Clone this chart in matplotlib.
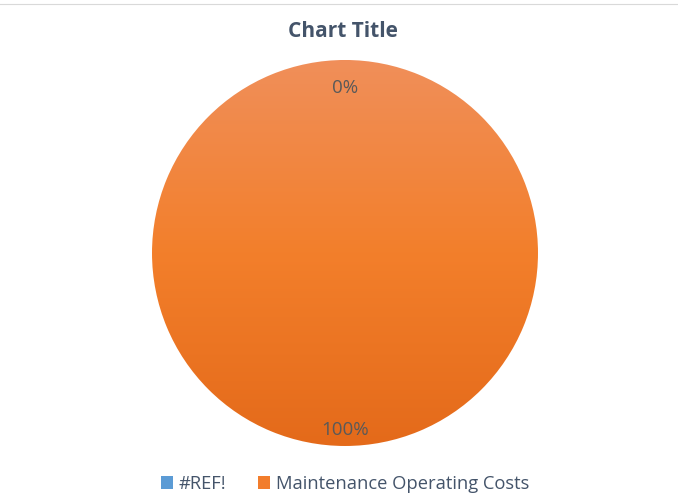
import numpy as np
import matplotlib.pyplot as plt
import matplotlib.transforms as mtransforms
from matplotlib.colors import LinearSegmentedColormap
from matplotlib.patches import Patch

# Dados do gráfico
categories = ["#REF!", "Maintenance Operating Costs"]
values = [0, 100]
colors = ["#5B9BD5", "#F27D2C"]
title = "Chart Title"

plt.rcParams['font.family'] = ['Open Sans', 'DejaVu Sans']

fig = plt.figure(figsize=(6.78, 5.04), dpi=100)
ax = fig.add_axes([0.2242, 0.1151, 0.5693, 0.7659])

wedges, texts, autotexts = ax.pie(values, colors=colors, startangle=90, counterclock=False,
                                  autopct='%1.0f%%', pctdistance=0.885,
                                  textprops={'color': '#595959', 'fontsize': 13.5})
ax.set_xlim(-1, 1)
ax.set_ylim(-1, 1)
ax.set_aspect('equal')

# Gradiente do laranja (mais claro em cima, mais escuro embaixo)
cmap = LinearSegmentedColormap.from_list("grad", ["#E46A1A", "#F37F2B", "#F08F5A"])
grad = np.linspace(0, 1, 256).reshape(-1, 1)
for w, v in zip(wedges, values):
    if v == 0:
        continue
    img = ax.imshow(grad, cmap=cmap, extent=(-1, 1, -1, 1), origin='lower',
                    aspect='auto', zorder=w.get_zorder())
    img.set_clip_path(w)
    w.set_facecolor('none')

# rótulos um pouco mais baixos, como no Excel
for t in autotexts:
    t.set_zorder(5)
    t.set_transform(mtransforms.offset_copy(t.get_transform(), fig=fig, y=-4.3, units='points'))

fig.text(0.506, 0.937, title, ha='center', va='center', fontsize=15,
         fontweight='bold', color='#44546A')

handles = [Patch(facecolor=c, edgecolor='none') for c in colors]
fig.legend(handles, categories, loc='center', bbox_to_anchor=(0.509, 0.040), ncol=2,
           frameon=False, handlelength=0.65, handleheight=0.65, handletextpad=0.33,
           columnspacing=1.75, prop={'size': 13.2}, labelcolor='#44546A')

# Borda superior da área do gráfico
fig.add_artist(plt.Line2D([0, 1], [0.992, 0.992], color='#D9D9D9', lw=0.8))

fig.savefig("out.png", dpi=100)
